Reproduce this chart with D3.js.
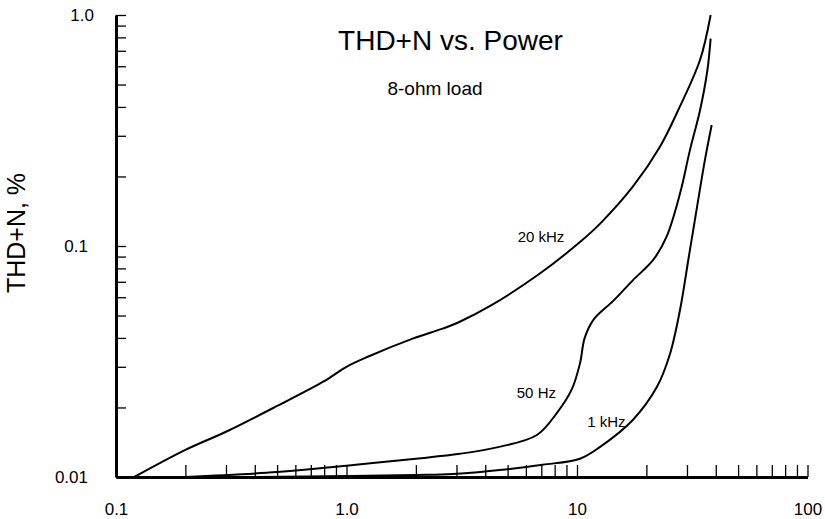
<!DOCTYPE html>
<html>
<head>
<meta charset="utf-8">
<script src="https://cdn.jsdelivr.net/npm/d3@7"></script>
<style>
  body { margin: 0; background: #fff; }
  svg { display: block; font-family: "Liberation Sans", Arial, sans-serif; }
  .axis .domain { stroke: #000; stroke-width: 3; }
  .axis .tick line { stroke: #000; stroke-width: 1.3; }
  .axis text { font-size: 17px; fill: #000; }
  .curve { fill: none; stroke: #000; stroke-width: 2; }
  .curve-label { font-size: 15px; fill: #000; }
</style>
</head>
<body>
<div id="chart"></div>
<script>
// THD+N (%) vs. output power (W)
const power20k = [0.12, 0.2, 0.3, 0.5, 0.8, 1.0, 1.26, 1.95, 2.63, 3.1, 4.2, 6.9, 10.3, 12.6, 17.5, 22.9, 27.5, 34.2, 38];
const thd20k   = [0.01, 0.0131, 0.0157, 0.0203, 0.026, 0.030, 0.0334, 0.0398, 0.044, 0.047, 0.055, 0.076, 0.104, 0.125, 0.181, 0.269, 0.388, 0.64, 1.0];

const power50 = [0.2, 0.5, 1.0, 2.0, 3.1, 4.6, 6.7, 8.2, 9.5, 10.3, 10.8, 11.8, 14.4, 17.5, 21.4, 24.5, 28, 30.9, 34.2, 36.8, 38];
const thd50   = [0.01, 0.0105, 0.0112, 0.012, 0.0126, 0.0135, 0.0152, 0.019, 0.024, 0.031, 0.040, 0.048, 0.058, 0.0712, 0.087, 0.11, 0.169, 0.26, 0.388, 0.578, 0.79];

const power1k = [0.4, 1.0, 2.0, 2.9, 5.0, 7.1, 10.3, 12.6, 17.5, 22.2, 25.3, 28, 30.4, 33, 35.9, 38.4];
const thd1k   = [0.01, 0.0101, 0.0102, 0.0103, 0.0108, 0.0113, 0.012, 0.0135, 0.0177, 0.0245, 0.034, 0.053, 0.087, 0.143, 0.236, 0.334];

const series = [
  {name: "20 kHz", power: power20k, thd: thd20k},
  {name: "50 Hz", power: power50, thd: thd50},
  {name: "1 kHz", power: power1k, thd: thd1k}
];

// label anchors (data units: power, thd)
const labelNames = ["20 kHz", "50 Hz", "1 kHz"];
const labelPower = [5.53, 5.48, 11.08];
const labelThd   = [0.1044, 0.022, 0.0164];

const xMajor = [0.1, 1, 10, 100];
const xMajorText = ["0.1", "1.0", "10", "100"];
const yMajor = [0.01, 0.1, 1];
const yMajorText = ["0.01", "0.1", "1.0"];

const width = 825, height = 519;
const plot = {left: 116, right: 807.5, top: 15, bottom: 477};

const svg = d3.select("#chart").append("svg")
  .attr("width", width)
  .attr("height", height)
  .attr("viewBox", `0 0 ${width} ${height}`);

//
// Scales
//
const x = d3.scaleLog().domain([0.1, 100]).range([plot.left, plot.right]);
const y = d3.scaleLog().domain([0.01, 1]).range([plot.bottom, plot.top]);

function decadeTicks(lo, hi) {
  const out = [];
  for (let d = lo; d < hi * 0.999; d *= 10) {
    for (let m = 1; m < 10; m++) out.push(d * m);
  }
  out.push(hi);
  return out;
}

const fmt = (majors, texts) => v => {
  const i = majors.findIndex(m => Math.abs(m - v) / m < 1e-6);
  return i >= 0 ? texts[i] : "";
};

//
// Axes
//
svg.append("g")
  .attr("class", "axis axis-x")
  .attr("transform", `translate(0,${plot.bottom})`)
  .call(d3.axisBottom(x)
    .tickValues(decadeTicks(0.1, 100))
    .tickFormat(fmt(xMajor, xMajorText))
    .tickSizeInner(-12)
    .tickSizeOuter(0)
    .tickPadding(26));

const yAxisGroup = svg.append("g")
  .attr("class", "axis axis-y")
  .attr("transform", `translate(${plot.left},0)`)
  .call(d3.axisLeft(y)
    .tickValues(decadeTicks(0.01, 1))
    .tickFormat(fmt(yMajor, yMajorText))
    .tickSizeInner(-10)
    .tickSizeOuter(0)
    .tickPadding(28));

// top label sits a little closer to the axis in the original
yAxisGroup.selectAll(".tick text")
  .filter(d => Math.abs(d - 1) < 1e-9)
  .attr("dx", 6);

svg.selectAll(".axis text").attr("font-family", "Liberation Sans, Arial, sans-serif");

//
// Curves
//
const line = d3.line()
  .x(d => x(d[0]))
  .y(d => y(d[1]))
  .curve(d3.curveCatmullRom.alpha(0.5));

svg.selectAll(".curve")
  .data(series)
  .enter().append("path")
  .attr("class", "curve")
  .attr("d", s => line(s.power.map((p, i) => [p, s.thd[i]])));

svg.selectAll(".curve-label")
  .data(labelNames)
  .enter().append("text")
  .attr("class", "curve-label")
  .attr("x", (d, i) => x(labelPower[i]))
  .attr("y", (d, i) => y(labelThd[i]))
  .text(d => d);

//
// Titles
//
svg.append("text")
  .attr("x", 450.5)
  .attr("y", 50)
  .attr("text-anchor", "middle")
  .style("font-size", "28px")
  .text("THD+N vs. Power");

svg.append("text")
  .attr("x", 435)
  .attr("y", 95)
  .attr("text-anchor", "middle")
  .style("font-size", "19px")
  .text("8-ohm load");

svg.append("text")
  .attr("transform", "translate(25,233) rotate(-90)")
  .attr("text-anchor", "middle")
  .style("font-size", "25px")
  .text("THD+N, %");
</script>
</body>
</html>
